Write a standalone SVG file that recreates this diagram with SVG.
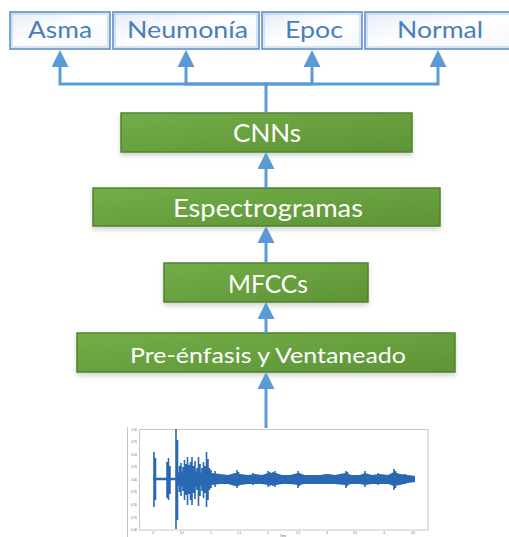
<svg xmlns="http://www.w3.org/2000/svg" width="509" height="537" viewBox="0 0 509 537">
<defs>
<linearGradient id="gGreen" x1="0" y1="0" x2="1" y2="1">
<stop offset="0" stop-color="#72ae48"/>
<stop offset="1" stop-color="#5e9336"/>
</linearGradient>
<linearGradient id="gBlue" x1="0" y1="0" x2="1" y2="1">
<stop offset="0" stop-color="#e6ecf6"/>
<stop offset="0.5" stop-color="#ffffff"/>
<stop offset="1" stop-color="#f4f7fb"/>
</linearGradient>
<filter id="shadow" x="-10%" y="-30%" width="120%" height="180%">
<feDropShadow dx="0" dy="3" stdDeviation="2.5" flood-color="#7a8a6a" flood-opacity="0.35"/>
</filter>
<filter id="soft" x="-5%" y="-5%" width="110%" height="110%">
<feGaussianBlur stdDeviation="0.5"/>
</filter>
<marker id="arrow" viewBox="0 0 17 17" markerWidth="17" markerHeight="17" refX="0" refY="8.5" orient="auto" markerUnits="userSpaceOnUse">
<path d="M0 0 L17 8.5 L0 17 Z" fill="#5b9bd5"/>
</marker>
<style>
.top rect.o{fill:url(#gBlue);stroke:#5e8fc8;stroke-width:1.6}
.top rect.i{fill:none;stroke:#b4cbe6;stroke-width:1}
.top text{font-family:Lato,"Open Sans",sans-serif;font-size:24px;fill:#4a7ebb;text-anchor:middle}
.green rect{fill:url(#gGreen);stroke:#538132;stroke-width:1.5;filter:url(#shadow)}
.green text{font-family:Lato,"Open Sans",sans-serif;fill:#ffffff;text-anchor:middle}
.conn path{fill:none;stroke:#5b9bd5;stroke-width:3}
.tick{font-family:"Liberation Sans",sans-serif;font-size:3px;fill:#666}
</style>
</defs>
<rect width="509" height="537" fill="#ffffff"/>

<g id="asma" class="top">
<rect class="o" x="10" y="12" width="100" height="37"/>
<rect class="i" x="12" y="14" width="96" height="33"/>
<text x="60" y="38" textLength="64" lengthAdjust="spacingAndGlyphs">Asma</text>
</g>
<g id="neumonia" class="top">
<rect class="o" x="113" y="12" width="146" height="37"/>
<rect class="i" x="115" y="14" width="142" height="33"/>
<text x="187.5" y="38" textLength="121" lengthAdjust="spacingAndGlyphs">Neumonía</text>
</g>
<g id="epoc" class="top">
<rect class="o" x="262" y="12" width="100" height="37"/>
<rect class="i" x="264" y="14" width="96" height="33"/>
<text x="314" y="38" textLength="58" lengthAdjust="spacingAndGlyphs">Epoc</text>
</g>
<g id="normal" class="top">
<rect class="o" x="365" y="12" width="150" height="37"/>
<rect class="i" x="367" y="14" width="146" height="33"/>
<text x="440" y="38" textLength="86" lengthAdjust="spacingAndGlyphs">Normal</text>
</g>

<g id="cnns" class="green">
<rect x="121" y="113" width="291" height="39"/>
<text x="267" y="142" font-size="25" textLength="68" lengthAdjust="spacingAndGlyphs">CNNs</text>
</g>
<g id="espectrogramas" class="green">
<rect x="93" y="188" width="347" height="38"/>
<text x="268" y="217" font-size="25" textLength="190" lengthAdjust="spacingAndGlyphs">Espectrogramas</text>
</g>
<g id="mfccs" class="green">
<rect x="164" y="263" width="204" height="39"/>
<text x="268" y="293" font-size="25.5" textLength="80" lengthAdjust="spacingAndGlyphs">MFCCs</text>
</g>
<g id="preenfasis" class="green">
<rect x="77" y="333" width="378" height="39"/>
<text x="268" y="363" font-size="22" textLength="276" lengthAdjust="spacingAndGlyphs">Pre-énfasis y Ventaneado</text>
</g>

<g id="connectors" class="conn">
<path d="M266 113 V84 H60 V67" marker-end="url(#arrow)"/>
<path d="M266 84 H186 V67" marker-end="url(#arrow)"/>
<path d="M266 84 H312 V67" marker-end="url(#arrow)"/>
<path d="M266 84 H438 V67" marker-end="url(#arrow)"/>
<path d="M266 188 V169" marker-end="url(#arrow)"/>
<path d="M266 263 V243" marker-end="url(#arrow)"/>
<path d="M266 333 V319" marker-end="url(#arrow)"/>
<path d="M266 428 V389" marker-end="url(#arrow)"/>
</g>

<g id="waveform-plot">
<line x1="127.5" y1="427" x2="127.5" y2="537" stroke="#c4c4c4" stroke-width="1"/>
<rect x="139.5" y="429.5" width="288.5" height="100.5" fill="none" stroke="#c8c8c8" stroke-width="1"/>
<g filter="url(#soft)" fill="#2a68b2" stroke="#2a68b2">
<line x1="153" y1="479" x2="415" y2="479" stroke-width="2.5"/>
<polygon stroke="none" points="176,474 180,472 185,471 190,473 195,471 200,473 205,471 210,473 212,474 212,484 210,486 205,487 200,485 195,487 190,486 185,487 180,486 176,485"/>
<polygon stroke="none" points="212,473 220,474 228,475 235,473 240,474 248,475 255,474 262,475 268,473 276,473 282,475 290,475 298,473 305,475 312,475 320,475 328,474 335,475 345,473 352,475 360,475 365,473 372,475 380,474 388,475 394,472 400,474 408,475 415,476 415,482 408,483 400,485 394,486 388,484 380,484 372,484 365,485 360,484 352,484 345,485 335,484 328,484 320,484 312,484 305,484 298,485 290,484 282,484 276,485 268,485 262,484 255,484 248,484 240,485 235,486 228,484 220,484 212,485"/>
<path fill="none" stroke-width="1.6" d="M154 452V507 M155.5 458V500 M167 462V498 M168.5 458V500 M170 466V494 M176 429V529 M177.5 440V520 M179.5 466V492 M181 463V496 M183 467V491 M184.5 460V500 M186 464V495 M187.5 457V505 M189 465V494 M190.5 462V500 M192 457V505 M193.5 466V493 M195 461V499 M197 468V490 M198.5 457V506 M200 464V496 M202 468V491 M203.5 462V498 M205 466V493 M206.5 452V507 M208 459V500 M209.5 468V490 M211 470V488 M215 471V487 M237 470V488 M238.5 472V486 M253 473V485 M268 471V487 M270 472V486 M273 472V486 M275 471V487 M298 471V488 M299.5 473V486 M325 474V484 M346 471V488 M347.5 472V486 M365 471V487 M378 473V485 M394 469V490 M395.5 471V488 M405 474V484"/>
</g>
<g class="tick" text-anchor="end">
<text x="137" y="430.5">1.00</text>
<text x="137" y="443">0.75</text>
<text x="137" y="455.7">0.50</text>
<text x="137" y="468.3">0.25</text>
<text x="137" y="481">0.00</text>
<text x="137" y="493">−0.25</text>
<text x="137" y="506">−0.50</text>
<text x="137" y="518.7">−0.75</text>
<text x="137" y="531">−1.00</text>
</g>
<g class="tick" text-anchor="middle">
<text x="153" y="534">0</text>
<text x="182" y="534">0.5</text>
<text x="211" y="534">1</text>
<text x="239" y="534">1.5</text>
<text x="268" y="534">2</text>
<text x="298" y="534">2.5</text>
<text x="327" y="534">3</text>
<text x="355" y="534">3.5</text>
<text x="384" y="534">4</text>
<text x="413" y="534">4.5</text>
<text x="283" y="536.5">Time</text>
</g>
</g>
</svg>
